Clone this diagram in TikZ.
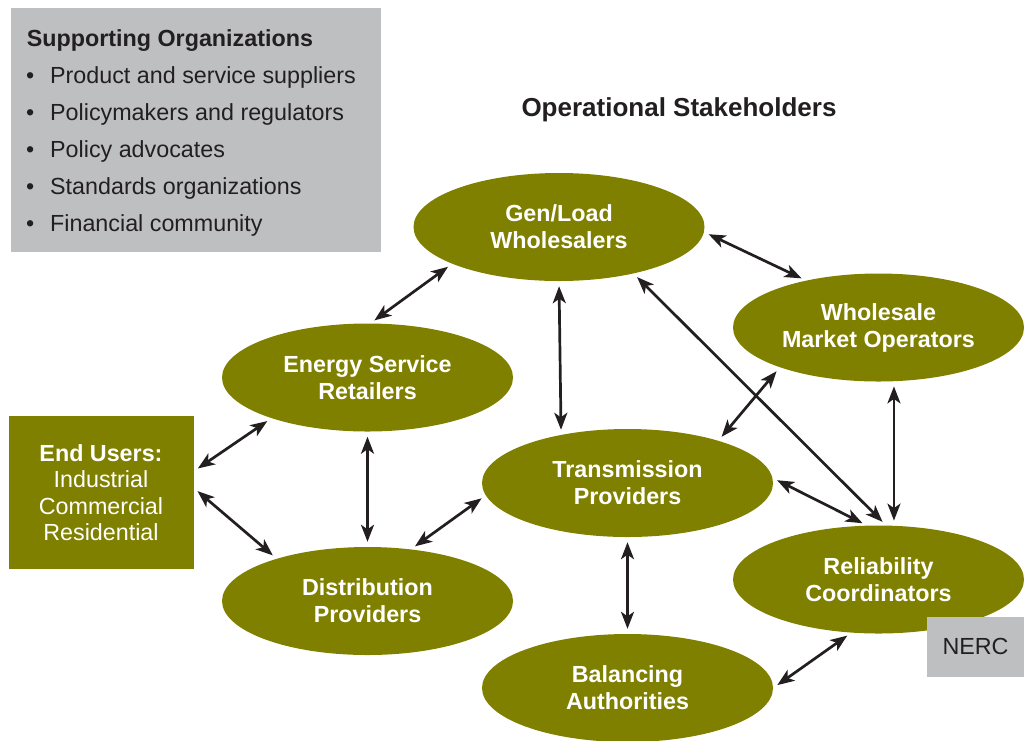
\documentclass[tikz,border=0pt]{standalone}
\usepackage{fontspec}
\setmainfont{Liberation Sans}
\usetikzlibrary{shapes.geometric,arrows.meta}

\definecolor{olivegreen}{RGB}{128,128,0}
\definecolor{panelgray}{RGB}{190,191,193}
\definecolor{ink}{RGB}{35,31,32}

\tikzset{
  stake/.style={ellipse, fill=olivegreen, text=white, align=center, inner sep=0pt,
    minimum width=291pt, minimum height=108pt, font=\bfseries\fontsize{23.3}{27}\selectfont},
  link/.style={<->, draw=ink, line width=2.7pt, shorten <=5pt, shorten >=5pt},
  >={Stealth[length=17pt,width=13pt,inset=4.5pt]}
}

\begin{document}
\begin{tikzpicture}[x=1pt,y=-1pt]
        \useasboundingbox (0,0) rectangle (1024,740);

        % supporting organizations
        \fill[panelgray] (10.5,8.3) rectangle (381,251.7);
        \node[anchor=base west, inner sep=0pt, text=ink, font=\bfseries\fontsize{23.3}{28}\selectfont]
            (supp) at (26.7,46) {Supporting Organizations};
        \foreach \txt [count=\i] in {Product and service suppliers, Policymakers and regulators,
            Policy advocates, Standards organizations, Financial community}
            \node[anchor=base west, inner sep=0pt, text=ink, font=\fontsize{23.3}{28}\selectfont]
                (org\i) at (26,{46+37*\i}) {\makebox[24pt][l]{•}\txt};

        \node[anchor=base, inner sep=0pt, text=ink, font=\bfseries\fontsize{26}{30}\selectfont]
            (title) at (679,116.6) {Operational Stakeholders};

        % operational stakeholders
        \node[stake] (gl)  at (559,227)     {Gen/Load\\Wholesalers};
        \node[stake] (wmo) at (878.5,327.5) {Wholesale\\Market Operators};
        \node[stake] (esr) at (367.5,377.5) {Energy Service\\Retailers};
        \node[stake] (tp)  at (627.5,483)   {Transmission\\Providers};
        \node[stake] (dp)  at (367.5,601)   {Distribution\\Providers};
        \node[stake] (rc)  at (878.5,579.5) {Reliability\\Coordinators};
        \node[stake] (ba)  at (627.5,688)   {Balancing\\Authorities};

        \node[fill=olivegreen, text=white, align=center, inner sep=0pt, minimum width=185pt,
            minimum height=153pt, font=\fontsize{23.3}{26.3}\selectfont]
            (eu) at (101,492.7) {\textbf{End Users:}\\Industrial\\Commercial\\Residential};

        \node[fill=panelgray, text=ink, inner sep=0pt, minimum width=97pt, minimum height=60pt,
            font=\fontsize{23.3}{28}\selectfont] (nerc) at (975.5,646.7) {\raisebox{-4pt}{NERC}};

        % links
        \draw[link] (gl.199) -- (esr.87);
        \draw[link] (gl.-2) -- (wmo.147);
        \draw[link] (gl.south) -- (tp.144);
        \draw[link] (gl.-32) -- (rc.82);
        \draw[link] (esr.203) -- (eu.13);
        \draw[link] (eu.3) -- (dp.155);
        \draw[link] (esr.south) -- (dp.north);
        \draw[link] (dp.50) -- (tp.185);
        \draw[link] (tp.25) -- (wmo.202);
        \draw[link] (wmo.-74) -- (rc.74);
        \draw[link] (tp.2) -- (rc.102);
        \draw[link] (tp.south) -- (ba.north);
        \draw[link] (ba.east) -- (rc.243);
\end{tikzpicture}
\end{document}
